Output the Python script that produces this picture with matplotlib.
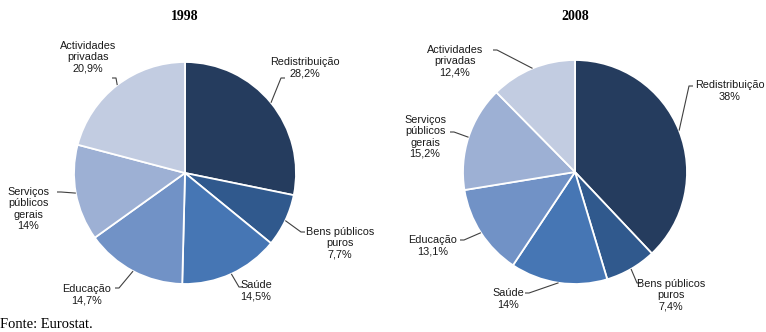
import numpy as np
import matplotlib.pyplot as plt

# Despesa pública por função, % do total
categorias = ["Redistribuição", "Bens públicos\npuros", "Saúde", "Educação",
              "Serviços\npúblicos\ngerais", "Actividades\nprivadas"]
valores_1998 = [28.2, 7.7, 14.5, 14.7, 14.0, 20.9]
valores_2008 = [38.0, 7.4, 14.0, 13.1, 15.2, 12.4]
rotulos_1998 = ["28,2%", "7,7%", "14,5%", "14,7%", "14%", "20,9%"]
rotulos_2008 = ["38%", "7,4%", "14%", "13,1%", "15,2%", "12,4%"]

cores = ["#253c5e", "#30598d", "#4676b4", "#7192c6", "#9db0d4", "#c2cce1"]

W, H = 766, 332

# posição do texto (centro) e ponto onde a linha encosta no texto, em pixels (y para baixo)
texto_1998 = [(305, 68), (340, 243), (256, 291), (87, 295), (28, 209), (88, 57)]
liga_1998 = [(285, 78), (305, 232), (243, 287), (115, 288), (57, 192), (112, 78)]
texto_2008 = [(730, 91), (671, 295), (508, 299), (433, 246), (425, 137), (455, 61)]
liga_2008 = [(693, 86), (641, 283), (525, 293), (460, 240), (450, 132), (493, 50)]

plt.rcParams["font.family"] = ["Liberation Sans", "DejaVu Sans"]

fig = plt.figure(figsize=(W / 100, H / 100), dpi=100)
ax = fig.add_axes([0, 0, 1, 1])


def desenha(valores, rotulos, cx, cy, r, textos, ligas, titulo):
    wedges, _ = ax.pie(valores, colors=cores, startangle=90, counterclock=False,
                       center=(cx, H - cy), radius=r,
                       wedgeprops=dict(edgecolor="white", linewidth=1.3))
    for w, cat, rot, (tx, ty), (lx, ly) in zip(wedges, categorias, rotulos,
                                                textos, ligas):
        ang = np.deg2rad(0.5 * (w.theta1 + w.theta2))
        ex = cx + r * np.cos(ang)
        ey = H - cy + r * np.sin(ang)
        cotovelo = lx + (4 if ex > lx else -4)
        ax.plot([lx, cotovelo, ex], [H - ly, H - ly, ey], color="#404040",
                lw=0.8, solid_capstyle="butt")
        ax.text(tx, H - ty, cat + "\n" + rot, ha="center", va="center",
                fontsize=7.8, linespacing=1.15, color="#1a1a1a")
    ax.text(cx, H - 17, titulo, ha="center", va="center", fontsize=10,
            fontweight="bold", family="Liberation Serif")


desenha(valores_1998, rotulos_1998, 185, 173, 111, texto_1998, liga_1998, "1998")
desenha(valores_2008, rotulos_2008, 575, 172, 112, texto_2008, liga_2008, "2008")

ax.text(0, H - 324, "Fonte: Eurostat.", ha="left", va="center", fontsize=10.5,
        family="Liberation Serif")

ax.set_xlim(0, W)
ax.set_ylim(0, H)
ax.set_aspect("equal")
ax.axis("off")

fig.savefig("out.png", dpi=100, facecolor="white")
